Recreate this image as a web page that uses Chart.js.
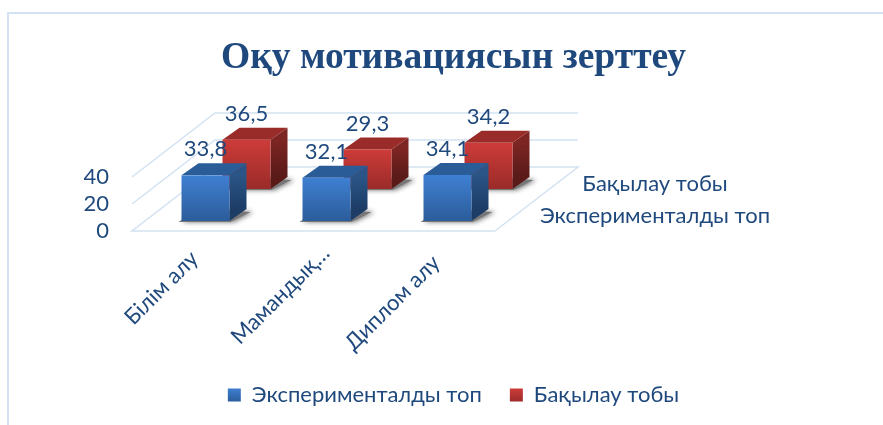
<!DOCTYPE html>
<html lang="kk">
<head>
    <meta charset="UTF-8">
    <title>Оқу мотивациясын зерттеу</title>
    <script src="https://cdn.jsdelivr.net/npm/chart.js"></script>
    <style>
        html, body { margin: 0; padding: 0; background: #fff; }
        canvas { display: block; }
    </style>
</head>
<body>
    <canvas id="chart" width="883" height="425"></canvas>

    <script>
        // Data
        const categories = ['Білім алу', 'Мамандық…', 'Диплом алу'];
        const seriesNames = ['Эксперименталды топ', 'Бақылау тобы'];
        const experimentValues = [33.8, 32.1, 34.1];
        const controlValues = [36.5, 29.3, 34.2];
        const yTicks = [0, 20, 40];

        const textColor = '#1f497d';
        const gridColor = '#d3e2f3';
        const fontFamily = 'Lato, Roboto, sans-serif';
        const labelFont = '22px ' + fontFamily;

        // 3D look: how far the floor goes back and how deep one bar is
        const floorDepth = { x: 83, y: -64 };
        const barDepth = { x: 17, y: -12 };
        const firstRow = { x: 13, y: -10 };
        const rowStep = { x: 41, y: -32 };

        // the rotated category labels do not sit evenly under the ticks in the original
        const tickLabelShift = [{ x: -31, y: 57 }, { x: -33, y: 64 }, { x: -42, y: 72 }];

        const palette = [
            { top: '#2a5c98', frontA: '#3f80d2', frontB: '#2b5c9a', sideA: '#2a5586', sideB: '#1d3c66' },
            { top: '#992b28', frontA: '#cd3c39', frontB: '#9a2b29', sideA: '#7d2523', sideB: '#591a18' }
        ];

        function poly(ctx, pts) {
            ctx.beginPath();
            pts.forEach((p, i) => i ? ctx.lineTo(p[0], p[1]) : ctx.moveTo(p[0], p[1]));
            ctx.closePath();
        }

        function vGrad(ctx, y0, y1, a, b) {
            const g = ctx.createLinearGradient(0, y0, 0, y1);
            g.addColorStop(0, a);
            g.addColorStop(1, b);
            return g;
        }

        function drawBar(ctx, bar, colors, row) {
            const sx = firstRow.x + rowStep.x * row;
            const sy = firstRow.y + rowStep.y * row;
            const l = bar.x - bar.width / 2 + sx;
            const r = l + bar.width;
            const t = bar.y + sy;
            const b = bar.base + sy;
            const dx = barDepth.x;
            const dy = barDepth.y;

            // soft shadow on the floor
            ctx.save();
            ctx.shadowColor = 'rgba(60,60,60,0.75)';
            ctx.shadowBlur = 5;
            ctx.shadowOffsetX = 3;
            ctx.fillStyle = '#777';
            poly(ctx, [[l - 3, b + 1], [r + 1, b + 1], [r + dx + 4, b + dy + 3], [l + dx, b + dy]]);
            ctx.fill();
            ctx.restore();

            ctx.fillStyle = vGrad(ctx, t, b + dy, colors.sideA, colors.sideB);
            poly(ctx, [[r, t], [r + dx, t + dy], [r + dx, b + dy], [r, b]]);
            ctx.fill();

            ctx.fillStyle = colors.top;
            poly(ctx, [[l, t], [l + dx, t + dy], [r + dx, t + dy], [r, t]]);
            ctx.fill();

            ctx.fillStyle = vGrad(ctx, t, b, colors.frontA, colors.frontB);
            ctx.fillRect(l, t, bar.width, b - t);
        }

        const scene3d = {
            id: 'scene3d',
            beforeDraw(chart) {
                const ctx = chart.ctx;
                ctx.save();
                ctx.fillStyle = '#fff';
                ctx.fillRect(0, 0, chart.width, chart.height);
                // outer frame, only top and left are in the picture
                ctx.strokeStyle = gridColor;
                ctx.lineWidth = 2;
                ctx.beginPath();
                ctx.moveTo(8, chart.height);
                ctx.lineTo(8, 13);
                ctx.lineTo(chart.width, 13);
                ctx.stroke();
                ctx.restore();
            },
            beforeDatasetsDraw(chart) {
                const ctx = chart.ctx;
                const x = chart.scales.x;
                const y = chart.scales.y;
                ctx.save();
                ctx.strokeStyle = gridColor;
                ctx.lineWidth = 1.5;
                yTicks.forEach(v => {
                    const py = y.getPixelForValue(v);
                    ctx.beginPath();
                    if (v === 0) ctx.moveTo(x.right, py);
                    else ctx.moveTo(x.left, py);
                    if (v === 0) ctx.lineTo(x.left, py);
                    ctx.lineTo(x.left + floorDepth.x, py + floorDepth.y);
                    ctx.lineTo(x.right + floorDepth.x, py + floorDepth.y);
                    if (v === 0) ctx.lineTo(x.right, py);
                    ctx.stroke();
                });
                ctx.restore();
            },
            afterDatasetsDraw(chart) {
                const ctx = chart.ctx;
                const x = chart.scales.x;
                const y = chart.scales.y;
                // back row first
                for (let row = chart.data.datasets.length - 1; row >= 0; row--) {
                    chart.getDatasetMeta(row).data.forEach(bar => drawBar(ctx, bar, palette[row], row));
                }
                ctx.save();
                ctx.fillStyle = textColor;
                ctx.font = labelFont;
                ctx.textBaseline = 'middle';
                ctx.textAlign = 'center';
                chart.data.datasets.forEach((ds, row) => {
                    const sx = firstRow.x + rowStep.x * row;
                    const sy = firstRow.y + rowStep.y * row;
                    chart.getDatasetMeta(row).data.forEach((bar, i) => {
                        ctx.fillText(ds.data[i].toFixed(1).replace('.', ','), bar.x + sx, bar.y + sy - 26);
                    });
                });
                // series names on the depth axis
                seriesNames.forEach((name, row) => {
                    const sy = firstRow.y + rowStep.y * row;
                    ctx.fillText(name, x.right + 160, y.getPixelForValue(0) + sy - 5);
                });
                // category labels
                categories.forEach((name, i) => {
                    ctx.save();
                    ctx.translate(x.getPixelForTick(i) + tickLabelShift[i].x, x.top + tickLabelShift[i].y);
                    ctx.rotate(-Math.PI / 4);
                    ctx.fillText(name, 0, 0);
                    ctx.restore();
                });
                ctx.restore();
            }
        };

        const ctx = document.getElementById('chart').getContext('2d');
        new Chart(ctx, {
            type: 'bar',
            data: {
                labels: categories,
                datasets: [
                    { label: seriesNames[0], data: experimentValues, backgroundColor: 'transparent', grouped: false },
                    { label: seriesNames[1], data: controlValues, backgroundColor: 'transparent', grouped: false }
                ]
            },
            options: {
                responsive: false,
                animation: false,
                layout: { autoPadding: false, padding: { left: 24, bottom: 9 } },
                datasets: { bar: { barThickness: 48 } },
                plugins: {
                    title: {
                        display: true,
                        text: 'Оқу мотивациясын зерттеу',
                        color: textColor,
                        font: { family: '"Liberation Serif", serif', size: 37.5, weight: 'bold', lineHeight: 1.2 },
                        padding: { top: 36, bottom: 96 }
                    },
                    legend: {
                        position: 'bottom',
                        onClick: null,
                        labels: {
                            color: textColor,
                            font: { family: fontFamily, size: 22 },
                            boxWidth: 13,
                            boxHeight: 13,
                            padding: 28,
                            generateLabels(chart) {
                                const c = chart.ctx;
                                return seriesNames.map((name, i) => ({
                                    text: name,
                                    fontColor: textColor,
                                    strokeStyle: 'transparent',
                                    lineWidth: 0,
                                    fillStyle: vGrad(c, 388, 402, palette[i].frontA, palette[i].frontB),
                                    datasetIndex: i
                                }));
                            }
                        }
                    },
                    tooltip: { enabled: false }
                },
                scales: {
                    x: {
                        grid: { display: false },
                        border: { display: false },
                        ticks: { display: false },
                        afterFit(scale) { scale.height = 125; }
                    },
                    y: {
                        min: 0,
                        max: 40,
                        grid: { display: false },
                        border: { display: false },
                        afterBuildTicks(scale) { scale.ticks = yTicks.map(v => ({ value: v })); },
                        ticks: {
                            autoSkip: false,
                            color: textColor,
                            font: { family: fontFamily, size: 22 },
                            padding: 15
                        },
                        afterFit(scale) { scale.width = 108; }
                    },
                    // empty axis that keeps the room for the depth labels
                    side: {
                        position: 'right',
                        grid: { display: false },
                        border: { display: false },
                        ticks: { display: false },
                        afterFit(scale) { scale.width = 388; }
                    }
                }
            },
            plugins: [scene3d]
        });
    </script>
</body>
</html>
